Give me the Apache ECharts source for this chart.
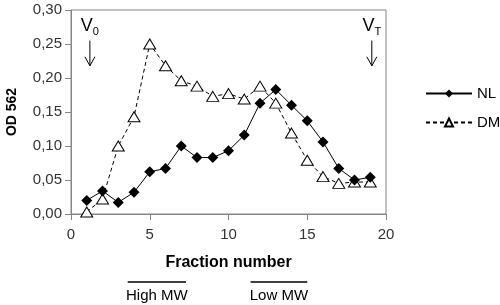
<!DOCTYPE html>
<html>
<head>
<meta charset="utf-8">
<script src="https://cdn.jsdelivr.net/npm/echarts@6/dist/echarts.min.js"></script>
<style>
  html, body { margin: 0; padding: 0; background: #fff; }
  #chart { width: 500px; height: 305px; }
</style>
</head>
<body>
<div id="chart"></div>
<script>
// fraction numbers
const fractions = [1, 2, 3, 4, 5, 6, 7, 8, 9, 10, 11, 12, 13, 14, 15, 16, 17, 18, 19];
// OD 562 values
const nlValues = [0.020, 0.034, 0.017, 0.032, 0.062, 0.067, 0.100, 0.083, 0.083, 0.093,
  0.116, 0.163, 0.183, 0.160, 0.137, 0.106, 0.067, 0.050, 0.054];
const dmValues = [0.003, 0.022, 0.100, 0.143, 0.250, 0.218, 0.196, 0.188, 0.173, 0.177,
  0.169, 0.188, 0.163, 0.119, 0.079, 0.055, 0.045, 0.047, 0.047];
const seriesNames = ["NL", "DM"];
const yTicks = [0, 0.05, 0.1, 0.15, 0.2, 0.25, 0.3];
const xTicks = [0, 5, 10, 15, 20];
// void / total volume markers (fraction), MW ranges below the axis
const markers = [
  { label: "0", x: 1.2 },
  { label: "T", x: 19.1 },
];
const highMW = [3.6, 7.3];
const lowMW = [11.4, 15.0];

const font = "'Liberation Sans', Arial, sans-serif";
const chart = echarts.init(document.getElementById("chart"));

const option = {
  animation: false,
  textStyle: { fontFamily: font },
  grid: {
    left: 71,
    right: 114,
    top: 10,
    bottom: 91,
    outerBoundsMode: "none",
    show: true,
    borderColor: "#868686",
    borderWidth: 1,
  },
  legend: {
    orient: "vertical",
    left: 420,
    top: 81,
    itemWidth: 46,
    itemHeight: 10,
    itemGap: 14,
    textStyle: { fontSize: 15, color: "#000", fontFamily: font },
    data: seriesNames,
  },
  xAxis: {
    type: "value",
    min: xTicks[0],
    max: xTicks[xTicks.length - 1],
    interval: 5,
    name: "Fraction number",
    nameLocation: "middle",
    nameGap: 41,
    nameTextStyle: { fontSize: 16, fontWeight: "bold", color: "#000", fontFamily: font },
    axisLine: { lineStyle: { color: "#868686" } },
    axisTick: { length: 6, lineStyle: { color: "#868686" } },
    axisLabel: { fontSize: 15, color: "#333", margin: 13, fontFamily: font },
    splitLine: { show: false },
  },
  yAxis: {
    type: "value",
    min: yTicks[0],
    max: yTicks[yTicks.length - 1],
    interval: 0.05,
    name: "OD 562",
    nameLocation: "middle",
    nameGap: 52,
    nameTextStyle: { fontSize: 14, fontWeight: "bold", color: "#000", fontFamily: font },
    axisLine: { show: true, lineStyle: { color: "#868686" } },
    axisTick: { show: true, length: 6, lineStyle: { color: "#868686" } },
    axisLabel: {
      fontSize: 15,
      color: "#333",
      margin: 9,
      fontFamily: font,
      formatter: (v) => v.toFixed(2).replace(".", ","),
    },
    splitLine: { show: false },
  },
  series: [
    {
      name: seriesNames[0],
      type: "line",
      data: fractions.map((f, i) => [f, nlValues[i]]),
      symbol: "diamond",
      symbolSize: [11, 11],
      lineStyle: { color: "#000", width: 1 },
      itemStyle: { color: "#000" },
      z: 3,
    },
    {
      name: seriesNames[1],
      type: "line",
      data: fractions.map((f, i) => [f, dmValues[i]]),
      symbol: "triangle",
      symbolSize: [12, 10],
      lineStyle: { color: "#000", width: 1, type: [4, 3] },
      itemStyle: { color: "#fff", borderColor: "#000", borderWidth: 1 },
      z: 2,
    },
  ],
};
chart.setOption(option);

// annotations placed from data coordinates
function px(x, y) {
  return chart.convertToPixel({ gridIndex: 0 }, [x, y]);
}
const graphics = [];
markers.forEach((m) => {
  const top = px(m.x, 0.255);
  const bot = px(m.x, 0.218);
  const cx = top[0];
  graphics.push({
    type: "line",
    shape: { x1: cx, y1: top[1], x2: cx, y2: bot[1] },
    style: { stroke: "#000", lineWidth: 1 },
  });
  graphics.push({
    type: "polyline",
    shape: { points: [[cx - 5, bot[1] - 9], [cx, bot[1]], [cx + 5, bot[1] - 9]] },
    style: { stroke: "#000", lineWidth: 1, fill: null },
  });
  graphics.push({
    type: "text",
    x: cx,
    y: top[1] - 6,
    style: {
      text: "{v|V}{s|" + m.label + "}",
      align: "center",
      verticalAlign: "bottom",
      rich: {
        v: { fontSize: 18, fontFamily: font, fill: "#000", verticalAlign: "bottom" },
        s: { fontSize: 11, fontFamily: font, fill: "#000", verticalAlign: "bottom", padding: [0, 0, -3, 0] },
      },
    },
  });
});
[
  { range: highMW, text: "High MW" },
  { range: lowMW, text: "Low MW" },
].forEach((r) => {
  const a = px(r.range[0], 0)[0];
  const b = px(r.range[1], 0)[0];
  graphics.push({
    type: "line",
    shape: { x1: a, y1: 282, x2: b, y2: 282 },
    style: { stroke: "#000", lineWidth: 1.5 },
  });
  graphics.push({
    type: "text",
    x: (a + b) / 2,
    y: 296,
    style: {
      text: r.text,
      align: "center",
      verticalAlign: "middle",
      fontSize: 15,
      fontFamily: font,
      fill: "#000",
    },
  });
});
chart.setOption({ graphic: graphics });
</script>
</body>
</html>
